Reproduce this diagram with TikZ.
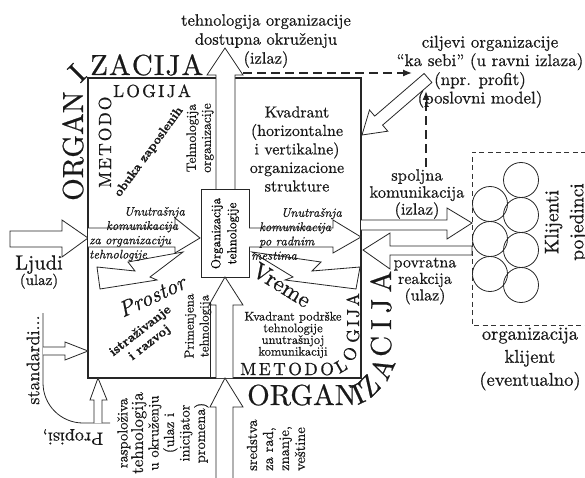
\documentclass[tikz,border=0pt]{standalone}
\usepackage{fontspec}
\setmainfont{lmroman10-regular.otf}[
  UprightFeatures={FakeBold=0.6},
  ItalicFont=lmroman10-italic.otf,
  ItalicFeatures={FakeBold=0.6},
  BoldFont=lmroman10-bold.otf,
  BoldFeatures={FakeBold=1.2},
  BoldItalicFont=lmroman10-bolditalic.otf]
\usetikzlibrary{arrows.meta}
\newcommand\fsz[2]{\fontsize{#1}{#2}\selectfont}
\begin{document}
\begin{tikzpicture}[x=1pt,y=-1pt,
  frame/.style={draw=black!85,line width=1.4pt},
  blk/.style={draw=black!85,line width=0.8pt,fill=white,line join=miter},
  thinline/.style={draw=black!85,line width=0.8pt},
  dsh/.style={draw=black!85,line width=1.3pt,dash pattern=on 9pt off 5pt},
  txt/.style={inner sep=0pt,align=center,text=black!90},
  big/.style={inner sep=0pt,text=black!90,font=\fsz{29}{29}},
  mid/.style={inner sep=0pt,text=black!90,font=\fsz{17.5}{17.5}},
]
\useasboundingbox (0,0) rectangle (585,478);

% ---- main frame with the upward channel ----
\draw[frame] (216,78) -- (88,78) -- (88,378) -- (361,378) -- (361,78) -- (235,78);
\draw[blk] (216,190) -- (216,75) -- (207,75) -- (225,48) -- (243,75) -- (235,75) -- (235,190);

% ---- core box ----
\node[draw=black!85,line width=1pt,rotate=90,minimum width=87pt,minimum height=48pt,
      inner sep=0pt,align=center,font=\fsz{13}{16}] (core) at (225,233.5) {Organizacija\\tehnologije};

% ---- vertical arrows at the bottom ----
\draw[blk] (216,378) -- (216,305) -- (209,305) -- (225,277) -- (243,305) -- (233,305) -- (233,378);
\draw[thinline] (210,305) -- (210,378);
\draw[blk] (216,478) -- (216,407) -- (210,407) -- (225,378) -- (243,407) -- (233,407) -- (233,478);

% ---- horizontal arrows ----
\draw[blk] (10,231) -- (62,231) -- (62,220) -- (88,238) -- (62,257) -- (62,247) -- (10,247) -- cycle;
\draw[blk] (88,228) -- (175,228) -- (175,218) -- (200,238) -- (175,253) -- (175,247) -- (88,247);
\draw[blk] (249,228) -- (333,228) -- (333,220) -- (361,237) -- (333,253) -- (333,247) -- (249,247);
\draw[blk] (361,220) -- (447,220) -- (447,208) -- (472,223) -- (447,239) -- (447,230) -- (361,230);
\draw[blk] (472,246) -- (390,246) -- (390,233) -- (363,250) -- (390,269) -- (390,255) -- (472,255) -- cycle;

% ---- zigzag bands: space and time ----
\draw[blk] (97,267) -- (135,271) -- (128,262) -- (183,252) -- (150,277) -- (157,280) -- (100,289) -- cycle;
\draw[blk] (360,267) -- (312,271) -- (321,262) -- (252,252) -- (293,277) -- (285,280) -- (356,289) -- cycle;

% ---- diagonal arrow from the goals ----
\draw[blk] (424.1,73.5) -- (374.7,116.1) -- (369.5,110.0) -- (362,135) -- (387.8,131.2) -- (382.6,125.1) -- (431.9,82.5) -- cycle;

% ---- dashed feedback arrows ----
\coordinate (dA) at (243,73);
\coordinate (dB) at (412,73);
\coordinate (dC) at (426,167);
\coordinate (dD) at (426,91);
\draw[dsh,-{Latex[length=9pt,width=7pt]}] (dA) -- (dB);
\draw[dsh,-{Latex[length=9pt,width=7pt]}] (dC) -- (dD);

% ---- client organisation ----
\draw[draw=black!80,line width=0.7pt,dash pattern=on 5pt off 3.5pt] (586,152) -- (472,152) -- (472,325) -- (586,325);
\foreach \i/\yy in {1/204,2/239,3/274}
  \node[circle,draw=black!85,line width=0.8pt,minimum size=35pt,inner sep=0pt] (cl\i) at (490,\yy) {};
\foreach \i/\yy in {1/180,2/215,3/250,4/285}
  \node[circle,draw=black!85,line width=0.8pt,minimum size=35pt,inner sep=0pt] (cr\i) at (521,\yy) {};

% ---- regulations curve and its small arrows ----
\draw[thinline] (43,313) -- (43,383) arc[start angle=180,end angle=90,radius=40] -- (110,423);
\draw[blk] (43,347) -- (65,347) -- (65,342) -- (88,351) -- (65,360) -- (65,355) -- (43,355);
\draw[blk] (94,423) -- (94,400) -- (90,400) -- (98,378) -- (107,400) -- (102,400) -- (102,423);

% ---- ORGANIZACIJA around the frame ----
\node[big,rotate=90,anchor=base west] (orgA) at (83,201) {ORGAN};
\node[big,rotate=45] (orgB) at (77,73) {I};
\node[big,anchor=base west] (orgC) at (90,75) {Z\kern1.1pt A\kern1.1pt C\kern1.1pt I\kern1.1pt J\kern1.1pt A};
\node[big,anchor=base west] (orgD) at (247,405) {ORGAN};
\node[big,rotate=25] (orgE) at (358,394) {I};
\node[big,rotate=45] (orgF) at (369,386) {Z};
\node[big,rotate=65] (orgG) at (382,368) {A};
\node[big,rotate=90,anchor=base west] (orgH) at (391,357) {C\kern6pt I\kern6pt J\kern6pt A};

% ---- METODOLOGIJA inside the frame ----
\node[mid,rotate=90,anchor=base west] (metA) at (111,188) {M\kern2pt E\kern2pt T\kern2pt O\kern2pt D\kern2pt O};
\node[mid,anchor=base west] (metB) at (113,97) {L\kern2.2pt O\kern2.2pt G\kern2.2pt I\kern2.2pt J\kern2.2pt A};
\node[mid,anchor=base west] (metC) at (240,375) {M\kern2.5pt E\kern2.5pt T\kern2.5pt O\kern2.5pt D\kern2.5pt O};
\node[mid,rotate=30] (metD) at (341,366) {L};
\node[mid,rotate=60] (metE) at (350,354) {O};
\node[mid,rotate=90,anchor=base west] (metF) at (359,343) {G\kern2.5pt I\kern2.5pt J\kern2.5pt A};

% ---- labels ----
\node[txt,font=\fsz{16.5}{19}] (tout) at (266,41) {tehnologija organizacije\\dostupna okruženju\\(izlaz)};
\node[txt,font=\fsz{17}{18.5}] (goal1) at (490,53) {ciljevi organizacije\\“ka sebi” (u ravni izlaza)};
\node[txt,font=\fsz{17}{18.5}] (goal2) at (480,90) {(npr. profit)\\(poslovni model)};
\node[txt,font=\fsz{16}{18.5}] (kvad) at (297,149) {Kvadrant\\(horizontalne\\i vertikalne)\\organizacione\\strukture};
\node[txt,font=\fsz{16.5}{17}] (spolj) at (417,194) {spoljna\\komunikacija\\(izlaz)};
\node[txt,font=\fsz{16}{16.5}] (povr) at (425,281) {povratna\\reakcija\\(ulaz)};
\node[txt] (ljudi) at (39,272) {{\fsz{20.5}{20}Ljudi}\\[-1pt]{\fsz{15}{15}(ulaz)}};
\node[txt,rotate=90,font=\fsz{19.5}{25}] (klij) at (566,222) {Klijenti\\pojedinci};
\node[txt,font=\fsz{18.5}{23}] (korg) at (530,359) {organizacija\\klijent\\(eventualno)};
\node[txt,rotate=90,font=\fsz{13.5}{15}] (tehorg) at (200,138) {Tehnologija\\organizacije};
\node[txt,rotate=90,font=\fsz{13}{15}] (primt) at (198,326) {Primenjena\\tehnologija};
\node[txt,rotate=54,font=\bfseries\fsz{12.5}{14}] (obuka) at (149,152) {obuka zaposlenih};
\node[txt,rotate=38,font=\bfseries\fsz{13}{15}] (istr) at (145,337) {istraživanje\\i razvoj};
\node[txt,rotate=25,font=\itshape\fsz{22}{22}] (prost) at (152,296) {Prostor};
\node[txt,rotate=-32,font=\fsz{23}{23}] (vreme) at (282,285) {Vreme};
\node[txt,font=\fsz{12.5}{11.7}] (kvpod) at (293,335) {Kvadrant podrške\\tehnologije\\unutrašnjoj\\komunikaciji};
\node[txt,anchor=west,align=left,font=\itshape\fsz{12.5}{14.3}] (ukom1) at (89,234)
  {\hspace*{35pt}Unutrašnja\\\hspace*{17pt}komunikacija\\za organizaciju\\tehnologije};
\node[txt,anchor=west,align=left,font=\itshape\fsz{12.5}{14.3}] (ukom2) at (251,234)
  {\hspace*{30pt}Unutrašnja\\\hspace*{8pt}komunikacija\\\hspace*{8pt}po radnim\\mestima};
\node[txt,rotate=90,font=\fsz{18}{18}] (stand) at (33,360) {standardi...};
\node[txt,rotate=180,font=\fsz{18}{18}] (props) at (73,437) {Propisi,};
\node[txt,rotate=90,font=\fsz{14.5}{15.5}] (rasp) at (163,433)
  {raspoloživa\\{\fsz{17}{15.5}tehnologija}\\u okruženju\\(ulaz i\\inicijator\\promena)};
\node[txt,rotate=90,anchor=west,align=left,font=\fsz{14.5}{16}] (sred) at (276,471)
  {sredstva\\za rad,\\znanje,\\veštine};
\end{tikzpicture}
\end{document}
